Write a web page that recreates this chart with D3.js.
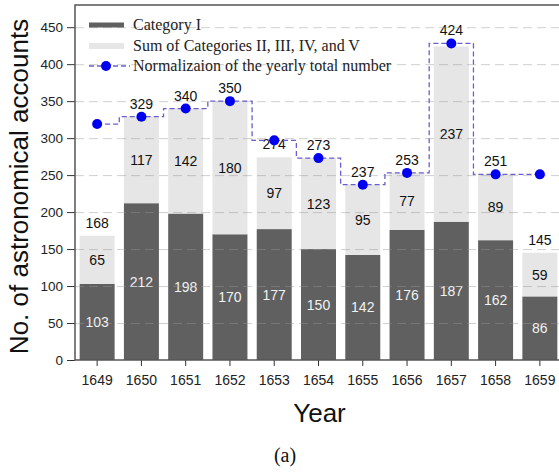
<!DOCTYPE html>
<html>
<head>
<meta charset="utf-8">
<script src="https://cdn.jsdelivr.net/npm/d3@7"></script>
<style>
  body { margin: 0; background: #fff; }
  svg { display: block; }
</style>
</head>
<body>
<div class="chart"></div>
<script>
const years = ["1649", "1650", "1651", "1652", "1653", "1654", "1655", "1656", "1657", "1658", "1659"];
const catI = [103, 212, 198, 170, 177, 150, 142, 176, 187, 162, 86];
const catOthers = [65, 117, 142, 180, 97, 123, 95, 77, 237, 89, 59];
const totals = [168, 329, 340, 350, 274, 273, 237, 253, 424, 251, 145];
const normalized = [319, 329, 340, 350, 297, 273, 237, 253, 428, 251, 251];
const yTicks = [0, 50, 100, 150, 200, 250, 300, 350, 400, 450];
const legendLabels = ["Category I", "Sum of Categories II, III, IV, and V", "Normalizaion of the yearly total number"];

const width = 559, height = 472;
const plotLeft = 75, plotRight = 562, plotTop = 5, plotBottom = 360;

const darkColor = "#606060";
const lightColor = "#e6e6e6";
const dotColor = "#0000f0";
const lineColor = "#6a5fd0";

const svg = d3.select(".chart")
    .append("svg")
    .attr("width", width)
    .attr("height", height);

const x = d3.scaleBand()
    .domain(years)
    .range([plotLeft, plotRight])
    .paddingInner(0.21)
    .paddingOuter(0.105);

const y = d3.scaleLinear()
    .domain([0, 480])
    .range([plotBottom, plotTop]);

const rows = years.map((yr, i) => ({
    year: yr, a: catI[i], b: catOthers[i], total: totals[i], norm: normalized[i]
}));

// bars
const g = svg.append("g");
g.selectAll("rect.dark")
    .data(rows)
    .enter().append("rect")
    .attr("x", d => x(d.year))
    .attr("width", x.bandwidth())
    .attr("y", d => y(d.a))
    .attr("height", d => y(0) - y(d.a))
    .attr("fill", darkColor);

g.selectAll("rect.light")
    .data(rows)
    .enter().append("rect")
    .attr("x", d => x(d.year))
    .attr("width", x.bandwidth())
    .attr("y", d => y(d.a + d.b))
    .attr("height", d => y(d.a) - y(d.a + d.b))
    .attr("fill", lightColor);

// grid lines (drawn over bars, faint)
svg.append("g")
    .selectAll("line")
    .data(yTicks.filter(t => t > 0))
    .enter().append("line")
    .attr("x1", plotLeft)
    .attr("x2", width)
    .attr("y1", d => y(d) + 0.5)
    .attr("y2", d => y(d) + 0.5)
    .attr("stroke", "rgba(150,150,150,0.45)")
    .attr("stroke-width", 1)
    .attr("stroke-dasharray", "9,5");

// value labels
const font = "'Liberation Sans', Arial, sans-serif";
g.selectAll("text.a")
    .data(rows)
    .enter().append("text")
    .attr("x", d => x(d.year) + x.bandwidth() / 2)
    .attr("y", d => (y(0) + y(d.a)) / 2 + 5)
    .attr("text-anchor", "middle")
    .attr("font-family", font)
    .attr("font-size", 14)
    .attr("fill", "#f2f2f2")
    .text(d => d.a);

g.selectAll("text.b")
    .data(rows)
    .enter().append("text")
    .attr("x", d => x(d.year) + x.bandwidth() / 2)
    .attr("y", d => (y(d.a) + y(d.a + d.b)) / 2 + 5)
    .attr("text-anchor", "middle")
    .attr("font-family", font)
    .attr("font-size", 14)
    .attr("fill", "#111")
    .text(d => d.b);

// total label sits above the bar, or above the dot when the dot is just on top
g.selectAll("text.total")
    .data(rows)
    .enter().append("text")
    .attr("x", d => x(d.year) + x.bandwidth() / 2)
    .attr("y", d => {
        const diff = d.norm - d.total;
        const v = diff >= 0 && diff < 10 ? d.norm : d.total;
        return y(v) - 8;
    })
    .attr("text-anchor", "middle")
    .attr("font-family", font)
    .attr("font-size", 14)
    .attr("fill", "#111")
    .text(d => d.total);

// step line + dots
const cx = d => x(d.year) + x.bandwidth() / 2;
const line = d3.line()
    .x(cx)
    .y(d => y(d.norm))
    .curve(d3.curveStep);

svg.append("path")
    .datum(rows)
    .attr("d", line)
    .attr("fill", "none")
    .attr("stroke", lineColor)
    .attr("stroke-width", 1.3)
    .attr("stroke-dasharray", "5,3");

svg.append("g")
    .selectAll("circle")
    .data(rows)
    .enter().append("circle")
    .attr("cx", cx)
    .attr("cy", d => y(d.norm))
    .attr("r", 5)
    .attr("fill", dotColor);

// axes
const yAxis = svg.append("g")
    .attr("transform", `translate(${plotLeft},0)`)
    .call(d3.axisLeft(y).tickValues(yTicks).tickSize(8).tickPadding(4));
yAxis.select(".domain").remove();
yAxis.selectAll("text").attr("font-family", font).attr("font-size", 13.5).attr("fill", "#222");
yAxis.selectAll("line").attr("stroke", "#333");

const xAxis = svg.append("g")
    .attr("transform", `translate(0,${plotBottom})`)
    .call(d3.axisBottom(x).tickSize(6).tickPadding(9));
xAxis.select(".domain").remove();
xAxis.selectAll("text").attr("font-family", font).attr("font-size", 14).attr("fill", "#222");
xAxis.selectAll("line").attr("stroke", "#333");

// frame
svg.append("rect")
    .attr("x", plotLeft)
    .attr("y", plotTop)
    .attr("width", plotRight - plotLeft)
    .attr("height", plotBottom - plotTop)
    .attr("fill", "none")
    .attr("stroke", "#555")
    .attr("stroke-width", 1.5);

// axis titles
svg.append("text")
    .attr("transform", `translate(28,${(plotTop + plotBottom) / 2 + 4}) rotate(-90)`)
    .attr("text-anchor", "middle")
    .attr("font-family", font)
    .attr("font-size", 26)
    .attr("fill", "#111")
    .text("No. of astronomical accounts");

svg.append("text")
    .attr("x", (plotLeft + plotRight) / 2 + 1)
    .attr("y", 422)
    .attr("text-anchor", "middle")
    .attr("font-family", font)
    .attr("font-size", 26)
    .attr("fill", "#111")
    .text("Year");

svg.append("text")
    .attr("x", 285)
    .attr("y", 462)
    .attr("text-anchor", "middle")
    .attr("font-family", "'Liberation Serif', 'Times New Roman', serif")
    .attr("font-size", 20)
    .attr("fill", "#111")
    .text("(a)");

// legend
const legend = svg.append("g").attr("transform", "translate(89,25)");
legend.append("line")
    .attr("x1", 0).attr("x2", 35).attr("y1", 0).attr("y2", 0)
    .attr("stroke", darkColor).attr("stroke-width", 5);
legend.append("line")
    .attr("x1", 0).attr("x2", 35).attr("y1", 21).attr("y2", 21)
    .attr("stroke", lightColor).attr("stroke-width", 6);
legend.append("line")
    .attr("x1", 0).attr("x2", 41).attr("y1", 41).attr("y2", 41)
    .attr("stroke", lineColor).attr("stroke-width", 1.3).attr("stroke-dasharray", "5,3");
legend.append("circle")
    .attr("cx", 17).attr("cy", 41).attr("r", 5).attr("fill", dotColor);
legend.selectAll("text")
    .data(legendLabels)
    .enter().append("text")
    .attr("x", 44)
    .attr("y", (d, i) => i * 20.5 + 5)
    .attr("font-family", "'Liberation Serif', 'Times New Roman', serif")
    .attr("font-size", 16)
    .attr("fill", "#222")
    .text(d => d);
</script>
</body>
</html>
